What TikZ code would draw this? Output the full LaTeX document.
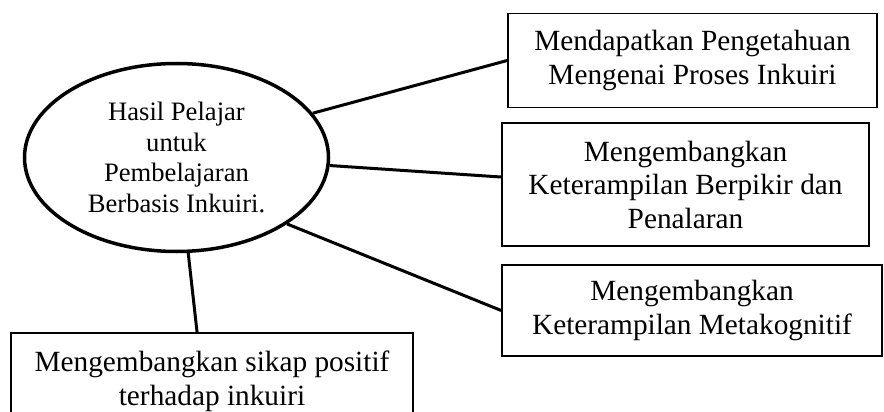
\documentclass[tikz,border=0pt]{standalone}
\usepackage{fontspec}
\setmainfont{Liberation Serif}
\usetikzlibrary{shapes.geometric,calc}
\begin{document}
\begin{tikzpicture}[x=1pt,y=-1pt,
  boxstyle/.style={draw, line width=1.6pt, rectangle, inner sep=0pt, align=center, font=\fontsize{29.3}{33.5}\selectfont},
  ellstyle/.style={draw, line width=3.5pt, ellipse, inner sep=0pt, align=center, font=\fontsize{26.6}{30.5}\selectfont},
  linkstyle/.style={line width=3pt}]
\clip (0,0) rectangle (884,412);
\node[ellstyle, minimum width=304pt, minimum height=188pt] (ell) at (176.5,157.5) {Hasil Pelajar\\untuk\\Pembelajaran\\Berbasis Inkuiri.};
\node[boxstyle, minimum width=369pt, minimum height=94pt] (box1) at (692.5,60.5) {Mendapatkan Pengetahuan\\Mengenai Proses Inkuiri};
\node[boxstyle, minimum width=367pt, minimum height=123pt] (box2) at (685.5,184.5) {Mengembangkan\\Keterampilan Berpikir dan\\Penalaran};
\node[boxstyle, minimum width=380pt, minimum height=91pt] (box3) at (692,310.5) {Mengembangkan\\Keterampilan Metakognitif};
\node[boxstyle, minimum width=402pt, minimum height=97pt] (box4) at (212,381.5) {Mengembangkan sikap positif\\terhadap inkuiri};
\coordinate (c2) at ($(box2.north west)!0.44!(box2.south west)$);
\coordinate (c4) at ($(box4.north west)!0.463!(box4.north east)$);
\draw[linkstyle] (ell.18) -- (box1.west);
\draw[linkstyle] (ell.-3) -- (c2);
\draw[linkstyle] (ell.-31) -- (box3.west);
\draw[linkstyle] (ell.-83) -- (c4);
\end{tikzpicture}
\end{document}
